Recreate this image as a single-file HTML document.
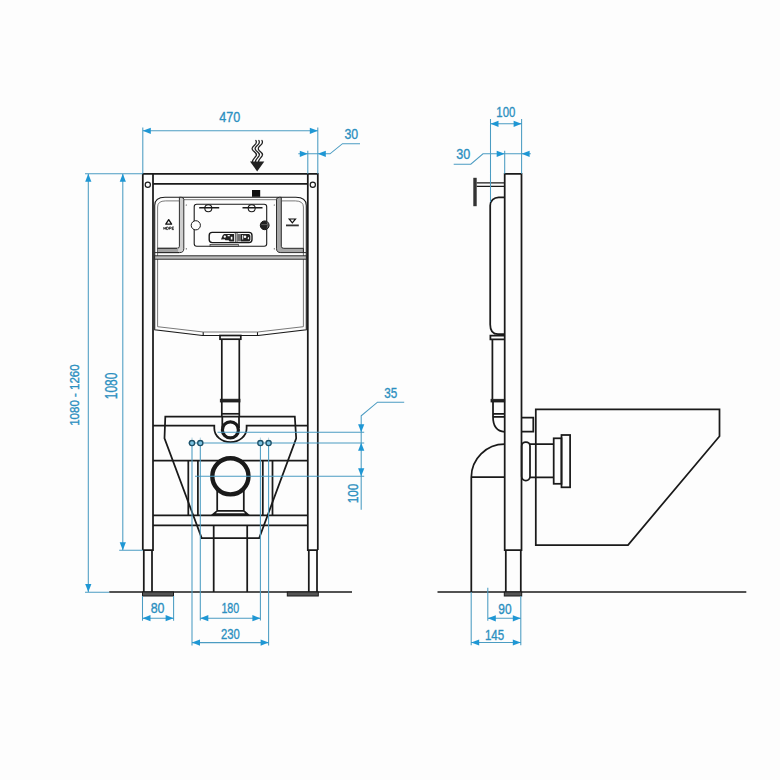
<!DOCTYPE html>
<html><head><meta charset="utf-8"><title>Installation frame dimensions</title>
<style>html,body{margin:0;padding:0;background:#fdfdfd;}body{width:780px;height:780px;overflow:hidden;}svg{display:block}text{font-family:"Liberation Sans",sans-serif;fill:#2b8fc0;stroke:#2b8fc0;stroke-width:0.35px;}</style></head><body>
<svg width="780" height="780" viewBox="0 0 780 780">
<rect width="780" height="780" fill="#fdfdfd"/>
<g fill="none" stroke="#1a1a1a" stroke-width="1.75" stroke-linejoin="miter">
<path d="M142.8 550 V173.8 H317.8 V550"/>
<path d="M153 173.8 V550 H142.8 M307.8 173.8 V550 H317.8"/>
<path d="M153 183.8 H307.8"/>
<path d="M143.8 550 V592 M152 550 V592 M308.8 550 V592 M317 550 V592"/>
<path d="M153 425.6 H214.3 V428.5 A16.15 13.6 0 0 0 246.6 428.5 V425.6 H307.8"/>
<path d="M153 460.7 H307.8 M153 515.3 H307.8 M153 525.3 H307.8"/>
<path d="M188.3 460.7 V515.3 M197.9 460.7 V515.3 M262.8 460.7 V515.3 M272.5 460.7 V515.3"/>
<path d="M213.7 525.3 V592 M247.2 525.3 V592"/>
</g>
<g fill="#fdfdfd" stroke="#1a1a1a" stroke-width="1.2"><circle cx="147.8" cy="184.7" r="2.6"/><circle cx="312.8" cy="184.7" r="2.6"/></g>
<path d="M109.2 592 H352" stroke="#1a1a1a" stroke-width="1.7" fill="none"/>
<rect x="142.5" y="592" width="31" height="4" fill="#555" stroke="#1a1a1a" stroke-width="1"/>
<rect x="287.3" y="592" width="31" height="4" fill="#555" stroke="#1a1a1a" stroke-width="1"/>
<g fill="none" stroke="#1a1a1a" stroke-width="1.1">
<path d="M154.7 329.7 V205.5 Q154.7 197.3 165 197.3 H295.8 Q306.3 197.3 306.3 205.5 V329.7 L258.2 335.5 H202.5 Z"/>
<path d="M203.2 332 V335.5 M257.5 332 V335.5"/>
</g>
<g fill="none" stroke="#6a6a6a" stroke-width="0.9">
<path d="M157.6 326.7 V207 Q157.6 200.9 165.5 200.9 H179.4 M281.3 200.9 H295.3 Q303.4 200.9 303.4 207 V326.7 L257.5 332 H203.2 L157.6 326.7"/>
<path d="M183.7 199.7 H277"/>
</g>
<rect x="154.7" y="255.8" width="151.6" height="3.4" fill="#bdbdbd" stroke="#1a1a1a" stroke-width="0.9"/>
<g stroke="#1a1a1a" stroke-width="0.9" fill="none">
<path d="M179.4 200.9 V246.3 Q179.4 248.3 177 248.3 H157.6 V252.6 H179.7 Q183.8 252.6 183.8 248.7 V199.5 Q183.8 197.3 181.2 197.3 H179.4 Z" fill="#cfcfcf"/>
<rect x="157.6" y="248.3" width="20.5" height="4.3" fill="#a2a2a2" stroke="none"/><path d="M157.6 248.3 H177 M157.6 252.6 H179" stroke-width="0.9"/>
<path d="M281.3 200.9 V246.3 Q281.3 248.3 283.8 248.3 H303.4 V252.6 H280.8 Q276.5 252.6 276.5 248.7 V199.5 Q276.5 197.3 279.3 197.3 H281.3 Z" fill="#a8a8a8"/>
<path d="M154.7 252.6 H157.6 M303.4 252.6 H306.3"/>
</g>
<g stroke="#1a1a1a" stroke-width="1.1" fill="none">
<rect x="194.2" y="204.2" width="72.5" height="42.1" rx="2.5"/>
<rect x="209.2" y="232.4" width="42.8" height="10.2" rx="3" stroke-width="1.4"/>
<path d="M235.3 232.5 V242.5 M237 232.5 V242.5" stroke-width="0.8"/>
<path d="M199.2 207.8 H219.2 M242.5 207.8 H262.5" stroke-width="1.5"/>
<circle cx="208.3" cy="208.3" r="3.5"/><circle cx="251.7" cy="208.3" r="3.5"/>
</g>
<circle cx="195.8" cy="225.3" r="4.6" fill="#fdfdfd" stroke="#1a1a1a" stroke-width="1"/>
<circle cx="264.7" cy="225.3" r="4.4" fill="#222" stroke="#1a1a1a" stroke-width="1"/>
<path d="M266.2 221.6 A4.2 4.2 0 0 1 266.2 229 A6 6 0 0 0 266.2 221.6 Z" fill="#9a9a9a"/><path d="M261.3 224.6 H267" stroke="#777" stroke-width="0.7"/>
<rect x="210" y="244.3" width="28.3" height="2.2" fill="#aaa" stroke="#1a1a1a" stroke-width="0.6"/>
<path d="M221 239.6 L222.6 235.4 L224 233.9 H234 V241.4 H229.6 L228.6 240.2 H225.4 L224.6 239.2 Z" fill="#222"/>
<path d="M237.2 233.9 H241 V241.4 H237.2 Z" fill="#6e6e6e"/>
<path d="M241 233.9 H249 Q250.4 234.6 250.4 236 V239.4 Q250.2 241.4 248.6 241.4 H241 Z" fill="#222"/>
<g fill="#fdfdfd"><circle cx="224.8" cy="236.7" r="1.15"/><path d="M227.6 235 h2.2 v1.2 h-2.2 z M230.8 236.8 h1.6 v2.6 h-1.6 z"/><circle cx="245" cy="236.8" r="1.3"/><path d="M242.2 235 h1 v4.6 h-1 z M247.4 238.2 l1.6 -1.4 v2.6 z"/></g>
<g fill="#333"><circle cx="186.3" cy="205" r="0.6"/><circle cx="186.3" cy="248.8" r="0.6"/><circle cx="274.3" cy="205" r="0.6"/><circle cx="274.3" cy="248.8" r="0.6"/></g>
<rect x="252" y="190" width="8.2" height="6.8" fill="#111"/>
<path d="M168.7 219.6 L171.6 224.2 H165.8 Z" fill="none" stroke="#111" stroke-width="1.3" stroke-linejoin="round"/>
<path d="M163.85 227 V229.6 M165.7 227 V229.6 M163.85 228.3 H165.7 M166.6 227 V229.6 H167.4 Q168.5 229.6 168.5 228.3 Q168.5 227 167.4 227 H166.6 M169.4 229.6 V227 H170.4 Q171.2 227 171.2 227.75 Q171.2 228.5 170.4 228.5 H169.4 M173.9 227 H172.1 V229.6 H173.9 M172.1 228.3 H173.6" fill="none" stroke="#111" stroke-width="0.8"/>
<path d="M289.2 219 H295.5 L292.35 222.8 Z" fill="none" stroke="#111" stroke-width="1.2"/>
<path d="M286 225.4 H298.8" stroke="#333" stroke-width="1.8"/>
<g fill="#fdfdfd" stroke="#1a1a1a" stroke-width="1.7">
<rect x="220" y="335.5" width="20.8" height="3.7"/>
<path d="M221.8 339.2 V416.7 M239.3 339.2 V416.7" fill="none"/>
<path d="M221.8 413.8 H239.3" fill="none"/>
</g>
<rect x="220.3" y="399.2" width="19.7" height="2.8" fill="#222" stroke="#1a1a1a" stroke-width="0.8"/>
<path d="M165.3 416.7 H294.8 L296.2 438.3 L259.2 538 H201.7 L164.5 438.3 Z" fill="none" stroke="#1a1a1a" stroke-width="1.75"/>
<path d="M222.3 416.7 V428 M239 416.7 V428" stroke="#1a1a1a" stroke-width="1.75" fill="none"/>
<circle cx="230.4" cy="429.9" r="8" fill="#fdfdfd" stroke="#1a1a1a" stroke-width="3.2"/>
<path d="M217.2 488 V510.8 L213.3 514.2 H247.5 L243.8 510.8 V488 M217.2 510.8 H243.8" fill="none" stroke="#1a1a1a" stroke-width="1.75"/>
<circle cx="230.4" cy="476.3" r="18.1" fill="#fdfdfd" stroke="#1a1a1a" stroke-width="4.4"/>
<g fill="none" stroke="#4b9cc2" stroke-width="1.05">
<path d="M142.8 127.5 V173.8 M317.8 127.5 V173.8 M307.8 150.8 V173.8"/>
<path d="M142.8 130.8 H317.8"/>
<path d="M298.3 153.8 H330 L342.5 143.7 H360"/>
<path d="M85 173.8 H142.8 M88.3 173.8 V592 M122.8 173.8 V550.3 M119.2 550.3 H142.8 M85 592.2 H109.2"/>
<path d="M217.5 432.2 H364.2 M188.3 443 H364.2 M195 476.2 H364.2"/>
<path d="M361.2 509.7 V415.8 L377.5 402.2 H404.2"/>
<path d="M192 443 V645.5 M200.3 443 V620.5 M260.4 443 V620.5 M268.6 443 V645.5"/>
<path d="M142.5 596 V620.8 M173.6 596 V620.8 M142.5 618.2 H173.6 M200.3 618.2 H260.4 M192 642.6 H268.6"/>
</g>
<path d="M192 437.6 V439.6 M200.3 437.6 V439.6 M260.4 437.6 V439.6 M268.6 437.6 V439.6" stroke="#9ac9dd" stroke-width="0.8" fill="none"/>
<circle cx="192.0" cy="443.1" r="2.6" fill="#7cc3e2" stroke="#1d4f66" stroke-width="1.3"/>
<circle cx="200.3" cy="443.1" r="2.6" fill="#7cc3e2" stroke="#1d4f66" stroke-width="1.3"/>
<circle cx="260.4" cy="443.1" r="2.6" fill="#7cc3e2" stroke="#1d4f66" stroke-width="1.3"/>
<circle cx="268.6" cy="443.1" r="2.6" fill="#7cc3e2" stroke="#1d4f66" stroke-width="1.3"/>
<polygon points="142.8,130.8 150.8,127.7 150.8,133.9" fill="#1f97d4"/>
<polygon points="317.8,130.8 309.8,127.7 309.8,133.9" fill="#1f97d4"/>
<polygon points="307.8,153.8 299.8,150.7 299.8,156.9" fill="#1f97d4"/>
<polygon points="317.8,153.8 325.8,150.7 325.8,156.9" fill="#1f97d4"/>
<polygon points="88.3,173.8 85.2,181.8 91.4,181.8" fill="#1f97d4"/>
<polygon points="88.3,592.0 85.2,584.0 91.4,584.0" fill="#1f97d4"/>
<polygon points="122.8,173.8 119.7,181.8 125.9,181.8" fill="#1f97d4"/>
<polygon points="122.8,550.3 119.7,542.3 125.9,542.3" fill="#1f97d4"/>
<polygon points="361.2,432.2 358.1,424.2 364.3,424.2" fill="#1f97d4"/>
<polygon points="361.2,442.8 358.1,450.8 364.3,450.8" fill="#1f97d4"/>
<polygon points="361.2,476.2 358.1,468.2 364.3,468.2" fill="#1f97d4"/>
<polygon points="142.5,618.2 150.5,615.1 150.5,621.3" fill="#1f97d4"/>
<polygon points="173.6,618.2 165.6,615.1 165.6,621.3" fill="#1f97d4"/>
<polygon points="200.3,618.2 208.3,615.1 208.3,621.3" fill="#1f97d4"/>
<polygon points="260.4,618.2 252.4,615.1 252.4,621.3" fill="#1f97d4"/>
<polygon points="192.0,642.6 200.0,639.5 200.0,645.7" fill="#1f97d4"/>
<polygon points="268.6,642.6 260.6,639.5 260.6,645.7" fill="#1f97d4"/>
<text x="229.7" y="121.9" text-anchor="middle" font-size="14.66" textLength="21.0" lengthAdjust="spacingAndGlyphs">470</text>
<text x="351.3" y="139.1" text-anchor="middle" font-size="14.66" textLength="13.7" lengthAdjust="spacingAndGlyphs">30</text>
<text x="390.8" y="397.7" text-anchor="middle" font-size="14.66" textLength="13.0" lengthAdjust="spacingAndGlyphs">35</text>
<text x="157.6" y="612.5" text-anchor="middle" font-size="14.66" textLength="13.8" lengthAdjust="spacingAndGlyphs">80</text>
<text x="230.3" y="612.7" text-anchor="middle" font-size="14.66" textLength="17.8" lengthAdjust="spacingAndGlyphs">180</text>
<text x="230.3" y="638.6" text-anchor="middle" font-size="14.66" textLength="18.8" lengthAdjust="spacingAndGlyphs">230</text>
<text transform="translate(357.7,493.5) rotate(-90)" text-anchor="middle" font-size="14.53" textLength="19.7" lengthAdjust="spacingAndGlyphs">100</text>
<text transform="translate(117.0,385.9) rotate(-90)" text-anchor="middle" font-size="15.64" textLength="26.7" lengthAdjust="spacingAndGlyphs">1080</text>
<text transform="translate(79.1,395.1) rotate(-90)" text-anchor="middle" font-size="12.85" textLength="61.4" lengthAdjust="spacingAndGlyphs">1080 - 1260</text>
<g fill="none" stroke="#222" stroke-width="1.25" stroke-linecap="round">
<path d="M255.8 140.4 c1.5,2.2 0.3,3.6 -1.6,5.2 c-2,1.7 -3,3.3 -0.9,5.2 c2.4,2 4.2,3.2 2.6,5.4 c-1.4,1.9 -3,3 -3.6,5.6"/>
<path d="M258.8 140.4 c1.5,2.2 0.3,3.6 -1.6,5.2 c-2,1.7 -3,3.3 -0.9,5.2 c2.4,2 4.2,3.2 2.6,5.4 c-1.4,1.9 -3,3 -3.6,5.6"/>
<path d="M261.9 140.4 c1.5,2.2 0.3,3.6 -1.6,5.2 c-2,1.7 -3,3.3 -0.9,5.2 c2.4,2 4.2,3.2 2.6,5.4 c-1.4,1.9 -3,3 -3.6,5.6"/>
</g>
<polygon points="250,161.4 264.3,161.4 257.15,171.4" fill="#222"/>
<g fill="none" stroke="#1a1a1a" stroke-width="1.75">
<path d="M504.7 550 V173.8 H521.5 V550 Z"/>
<path d="M505.8 550 V592 M520.8 550 V592"/>
<path d="M504.7 197.3 H498.6 A8.4 8.2 0 0 0 490.2 205.5 V324.5 Q490.2 334.2 498 334.2 H504.7"/>
<path d="M504.7 335.6 H490.4 V339.4 H504.7 M492.4 339.4 V399.3 M493 402 V416.8 Q493 431.2 504.7 431.8 M493 413.8 H504.7 M493 416.8 H504.7"/>
<path d="M504.7 444.2 A33.4 33 0 0 0 471.3 477.2 V592 M471.3 477.2 H504.7"/>
<path d="M521.5 417.5 H533.3 V431.7 H521.5"/>
<path d="M535.8 409.4 H719.5 V436.2 L628 545 H535.8 Z"/>
<path d="M530 444.2 H553.7 M530 477.4 H553.7"/>
<rect x="521.7" y="442" width="8.3" height="38.5" rx="4" />
<rect x="553.7" y="438.3" width="7.8" height="45.5"/>
<rect x="561.5" y="435" width="8.6" height="52.3"/>
</g>
<rect x="491" y="399.3" width="13.7" height="2.7" fill="#222" stroke="#1a1a1a" stroke-width="0.8"/>
<rect x="473.3" y="177.8" width="3.4" height="28.4" fill="#333"/>
<path d="M476.7 182.9 H504.7 M476.7 186.4 H504.7" stroke="#1a1a1a" stroke-width="1.4" fill="none"/>
<path d="M437.5 592 H746.3" stroke="#1a1a1a" stroke-width="1.7" fill="none"/>
<rect x="504.3" y="592" width="17.4" height="4" fill="#555" stroke="#1a1a1a" stroke-width="1"/>
<g fill="none" stroke="#4b9cc2" stroke-width="1.05">
<path d="M490.5 119 V202 M521.6 119 V173.8 M504.7 150.8 V173.8 M490.5 123.8 H521.6"/>
<path d="M453.7 164.2 H470.8 L483 153.8 H530.8"/>
<path d="M471.2 592 V645.2 M520.8 596 V645.2 M487.8 587.8 V620.8 M487.8 618.3 H520.8 M471.2 642.5 H520.8"/>
</g>
<polygon points="490.5,123.8 498.5,120.7 498.5,126.9" fill="#1f97d4"/>
<polygon points="521.6,123.8 513.6,120.7 513.6,126.9" fill="#1f97d4"/>
<polygon points="504.7,153.8 496.7,150.7 496.7,156.9" fill="#1f97d4"/>
<polygon points="521.6,153.8 529.6,150.7 529.6,156.9" fill="#1f97d4"/>
<polygon points="487.8,618.3 495.8,615.2 495.8,621.4" fill="#1f97d4"/>
<polygon points="520.8,618.3 512.8,615.2 512.8,621.4" fill="#1f97d4"/>
<polygon points="471.2,642.5 479.2,639.4 479.2,645.6" fill="#1f97d4"/>
<polygon points="520.8,642.5 512.8,639.4 512.8,645.6" fill="#1f97d4"/>
<text x="505.8" y="116.9" text-anchor="middle" font-size="14.66" textLength="19.0" lengthAdjust="spacingAndGlyphs">100</text>
<text x="463.3" y="159.1" text-anchor="middle" font-size="14.66" textLength="14.0" lengthAdjust="spacingAndGlyphs">30</text>
<text x="505.0" y="614.1" text-anchor="middle" font-size="14.66" textLength="13.3" lengthAdjust="spacingAndGlyphs">90</text>
<text x="494.5" y="639.7" text-anchor="middle" font-size="14.66" textLength="19.2" lengthAdjust="spacingAndGlyphs">145</text>
</svg></body></html>
